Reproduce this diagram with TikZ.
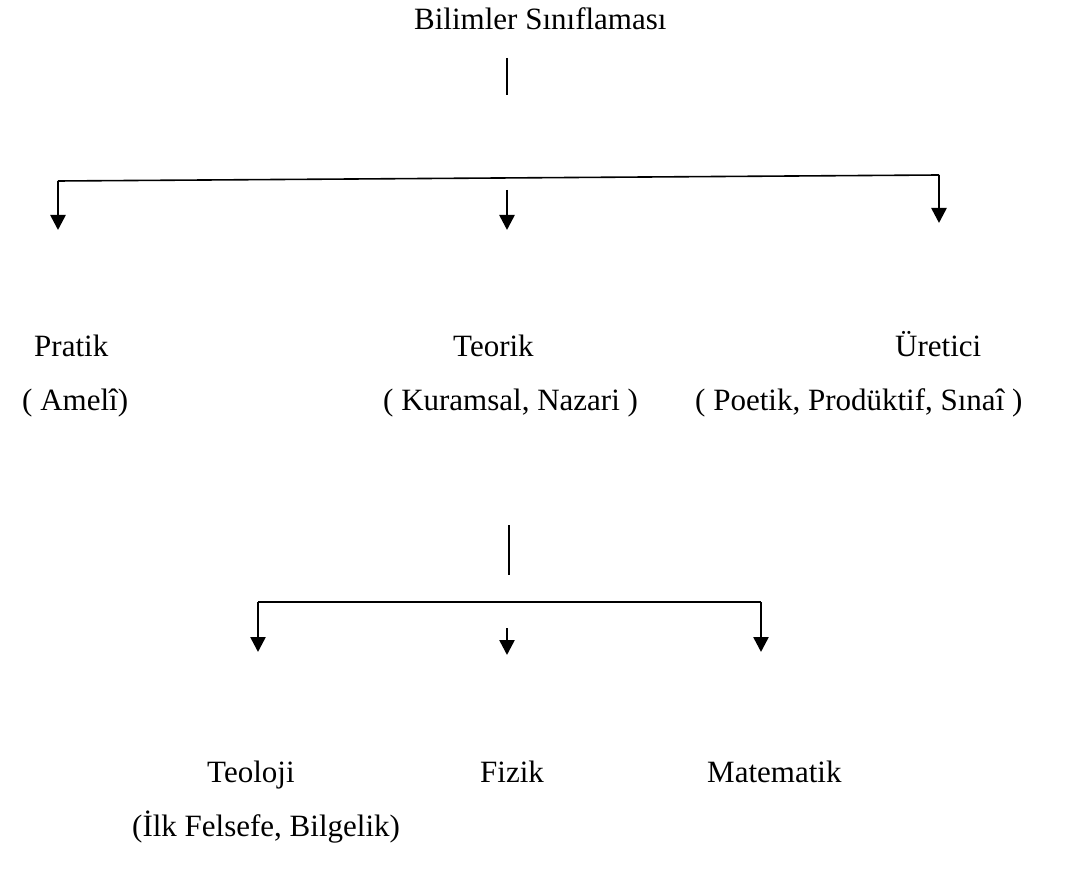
\documentclass[tikz,border=0pt]{standalone}
\usepackage{fontspec}
\setmainfont{Liberation Serif}
\usetikzlibrary{arrows.meta}
\begin{document}
\begin{tikzpicture}[x=1pt,y=-1pt,
  lbl/.style={anchor=base west,inner sep=0pt,font=\fontsize{31}{36}\selectfont},
  bar/.style={line width=1.6pt},
  thin/.style={line width=1.3pt},
  arr/.style={line width=2.6pt,-{Triangle[width=15pt,length=15pt]}}]
\useasboundingbox (0,0) rectangle (1085,874);
% texts
\node[lbl] (title) at (414,30) {Bilimler Sınıflaması};
\node[lbl] (pratik) at (34,357) {Pratik};
\node[lbl] (ameli) at (22,411) {( Amelî)};
\node[lbl] (teorik) at (453,357) {Teorik};
\node[lbl] (kuram) at (383,411) {( Kuramsal, Nazari )};
\node[lbl] (uretici) at (895,357) {Üretici};
\node[lbl] (poetik) at (695,411) {( Poetik, Prodüktif, Sınaî )};
\node[lbl] (teoloji) at (207,782) {Teoloji};
\node[lbl] (fizik) at (480,782) {Fizik};
\node[lbl] (matem) at (707,782) {Matematik};
\node[lbl] (ilk) at (132,836) {(İlk Felsefe, Bilgelik)};
% coordinates
\coordinate (t1) at (507,58);
\coordinate (t2) at (507,95);
\coordinate (bl) at (58,181);
\coordinate (br) at (939,175);
\coordinate (blt) at (58,230);
\coordinate (brt) at (939,223);
\coordinate (bm1) at (507,190);
\coordinate (bm2) at (507,230);
\coordinate (s1) at (509,525);
\coordinate (s2) at (509,575);
\coordinate (cl) at (258,602);
\coordinate (cr) at (761,602);
\coordinate (clt) at (258,652);
\coordinate (crt) at (761,652);
\coordinate (cm1) at (507,628);
\coordinate (cm2) at (507,655);
% lines
\draw[thin] (t1) -- (t2);
\draw[bar] (bl) -- (br);
\draw[arr] (bl) -- (blt);
\draw[arr] (br) -- (brt);
\draw[arr] (bm1) -- (bm2);
\draw[thin] (s1) -- (s2);
\draw[bar] (cl) -- (cr);
\draw[arr] (cl) -- (clt);
\draw[arr] (cr) -- (crt);
\draw[arr] (cm1) -- (cm2);
\end{tikzpicture}
\end{document}
